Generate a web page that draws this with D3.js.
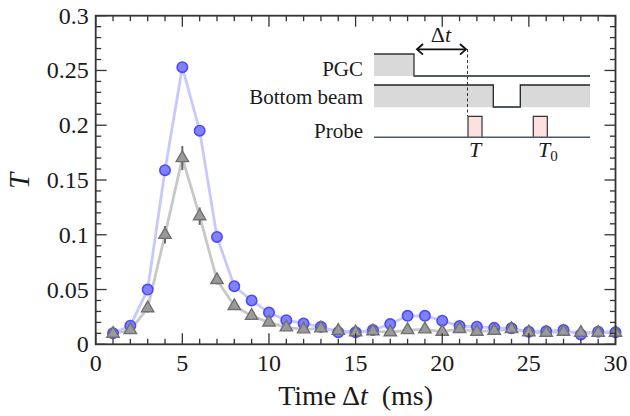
<!DOCTYPE html>
<html><head><meta charset="utf-8">
<script src="https://cdn.jsdelivr.net/npm/d3@7/dist/d3.min.js"></script>
<style>
html,body{margin:0;padding:0;background:#fff;}
svg{display:block;}
</style></head>
<body><svg id="c" width="630" height="416" font-family="'Liberation Serif','Times New Roman','DejaVu Serif',serif"></svg>
<script>
// ---- data ----
const times = d3.range(1, 31);
const blueT = [0.010,0.017,0.050,0.159,0.253,0.195,0.098,0.053,0.040,0.029,
               0.022,0.019,0.016,0.011,0.011,0.013,0.0185,0.026,0.026,0.0216,
               0.0167,0.016,0.015,0.0146,0.0115,0.012,0.013,0.009,0.0115,0.011];
const grayT = [0.0097,0.013,0.033,0.100,0.170,0.117,0.0587,0.035,0.026,0.020,
               0.0155,0.0137,0.0146,0.0124,0.011,0.012,0.011,0.013,0.0137,0.0115,
               0.014,0.0115,0.0124,0.014,0.011,0.0106,0.0115,0.0106,0.0106,0.0106];
const grayErr = [0.002,0.003,0.004,0.008,0.011,0.008,0.004,0.003,0.002,0.002,
                 0.002,0.002,0.002,0.002,0.002,0.002,0.002,0.002,0.002,0.002,
                 0.002,0.002,0.002,0.002,0.002,0.002,0.002,0.002,0.002,0.002];
const xTicks = [0,5,10,15,20,25,30];
const yTicks = [0,0.05,0.1,0.15,0.2,0.25,0.3];
const yTickLabels = ["0","0.05","0.1","0.15","0.2","0.25","0.3"];

// ---- layout ----
const L = 95.7, R = 615.5, T = 15.7, B = 344.3;
const svg = d3.select("#c");
const x = d3.scaleLinear().domain([0,30]).range([L,R]);
const y = d3.scaleLinear().domain([0,0.3]).range([B,T]);
const axisCol = "#333";
const txtCol = "#1a1a1a";

// lines
const line = d3.line().x((d,i)=>x(times[i])).y(d=>y(d));
svg.append("path").attr("d", line(grayT)).attr("fill","none")
  .attr("stroke","#c8c8c8").attr("stroke-width",2.8);
svg.append("path").attr("d", line(blueT)).attr("fill","none")
  .attr("stroke","#c8c8ff").attr("stroke-width",2.8);

// blue circles
svg.append("g").selectAll("circle").data(blueT).join("circle")
  .attr("cx",(d,i)=>x(times[i])).attr("cy",d=>y(d)).attr("r",5.2)
  .attr("fill","#8181fc").attr("stroke","#4a4aff").attr("stroke-width",1.6);

// gray error bars
svg.append("g").selectAll("line").data(grayT).join("line")
  .attr("x1",(d,i)=>x(times[i])).attr("x2",(d,i)=>x(times[i]))
  .attr("y1",(d,i)=>y(d-grayErr[i])).attr("y2",(d,i)=>y(d+grayErr[i]))
  .attr("stroke","#6a6a6a").attr("stroke-width",2);
// gray triangles
const tri = d3.symbol().type(d3.symbolTriangle).size(66);
svg.append("g").selectAll("path").data(grayT).join("path")
  .attr("d", tri)
  .attr("transform",(d,i)=>`translate(${x(times[i])},${y(d)})`)
  .attr("fill","#9a9a9a").attr("stroke","#707070").attr("stroke-width",1.4);

// frame
svg.append("rect").attr("x",L).attr("y",T).attr("width",R-L).attr("height",B-T)
  .attr("fill","none").attr("stroke",axisCol).attr("stroke-width",1.8);

// ticks
const gT = svg.append("g").attr("stroke",axisCol).attr("stroke-width",1.3);
d3.range(0,31).forEach(v=>{
  const len = v%5===0 ? 11 : 5.5;
  gT.append("line").attr("x1",x(v)).attr("x2",x(v)).attr("y1",B).attr("y2",B-len);
  gT.append("line").attr("x1",x(v)).attr("x2",x(v)).attr("y1",T).attr("y2",T+len);
});
d3.range(0,31).forEach(k=>{
  const v = k/100;
  const len = k%5===0 ? 11 : 5.5;
  gT.append("line").attr("y1",y(v)).attr("y2",y(v)).attr("x1",L).attr("x2",L+len);
  gT.append("line").attr("y1",y(v)).attr("y2",y(v)).attr("x1",R).attr("x2",R-len);
});

// tick labels
svg.append("g").attr("fill",txtCol).selectAll("text").data(xTicks).join("text")
  .attr("x",d=>x(d)).attr("y",B+27).attr("text-anchor","middle")
  .attr("font-size",24).text(d=>d);
svg.append("g").attr("fill",txtCol).selectAll("text").data(yTicks).join("text")
  .attr("x",L-7).attr("y",d=>y(d)+8).attr("text-anchor","end")
  .attr("font-size",24).text((d,i)=>yTickLabels[i]);

// axis titles
const xt = svg.append("text").attr("x",(L+R)/2).attr("y",405).attr("text-anchor","middle")
  .attr("font-size",28).attr("fill",txtCol);
xt.append("tspan").text("Time\u2009\u0394");
xt.append("tspan").attr("font-style","italic").text("t");
xt.append("tspan").text("\u2002(ms)");
svg.append("text").attr("transform","translate(29,181) rotate(-90)").attr("fill",txtCol)
  .attr("text-anchor","middle").attr("font-size",29).attr("font-style","italic").text("T");

// ---- inset timing diagram ----
const ins = svg.append("g");
const lineCol = "#4a5868";
const fillG = "#d9d9d9";
const x0 = 374, x1 = 590;
// PGC
ins.append("rect").attr("x",x0).attr("y",54).attr("width",414-x0).attr("height",22).attr("fill",fillG);
ins.append("path").attr("d",`M${x0},54 H414 V76 H${x1}`).attr("fill","none").attr("stroke","#333").attr("stroke-width",1.3);
ins.append("line").attr("x1",414).attr("x2",x1).attr("y1",76).attr("y2",76).attr("stroke",lineCol).attr("stroke-width",1.6);
// Bottom beam
ins.append("rect").attr("x",x0).attr("y",85).attr("width",493.3-x0).attr("height",22.3).attr("fill",fillG);
ins.append("rect").attr("x",520.3).attr("y",85).attr("width",x1-520.3).attr("height",22.3).attr("fill",fillG);
ins.append("path").attr("d",`M${x0},85 H493.3 V107 H520.3 V85 H${x1}`).attr("fill","none").attr("stroke","#222").attr("stroke-width",1.3);
ins.append("line").attr("x1",493.3).attr("x2",520.3).attr("y1",107).attr("y2",107).attr("stroke",lineCol).attr("stroke-width",1.6);
// Probe
ins.append("rect").attr("x",468).attr("y",116.3).attr("width",14).attr("height",21).attr("fill","#ffe0e0");
ins.append("rect").attr("x",533.3).attr("y",116.3).attr("width",14).attr("height",21).attr("fill","#ffe0e0");
ins.append("path").attr("d","M468,137.3 V116.3 H482 V137.3 M533.3,137.3 V116.3 H547.3 V137.3").attr("fill","none").attr("stroke","#333").attr("stroke-width",1.2);
ins.append("line").attr("x1",x0).attr("x2",x1).attr("y1",137.3).attr("y2",137.3).attr("stroke",lineCol).attr("stroke-width",1.6);
// dashed line
ins.append("line").attr("x1",467.5).attr("x2",467.5).attr("y1",49).attr("y2",116).attr("stroke","#333").attr("stroke-width",1).attr("stroke-dasharray","3,2.5");
// arrow
ins.append("line").attr("x1",418).attr("x2",465).attr("y1",49.3).attr("y2",49.3).attr("stroke","#111").attr("stroke-width",1.8);
ins.append("path").attr("d","M423,44 L417,49.3 L423,54.6").attr("fill","none").attr("stroke","#111").attr("stroke-width",1.8);
ins.append("path").attr("d","M460,44 L466,49.3 L460,54.6").attr("fill","none").attr("stroke","#111").attr("stroke-width",1.8);
const dt = ins.append("text").attr("x",441).attr("y",42).attr("text-anchor","middle").attr("font-size",22).attr("fill",txtCol);
dt.append("tspan").text("\u0394");
dt.append("tspan").attr("font-style","italic").text("t");
// labels
ins.append("text").attr("x",363).attr("y",76).attr("text-anchor","end").attr("font-size",21).attr("fill",txtCol).text("PGC");
ins.append("text").attr("x",363).attr("y",104).attr("text-anchor","end").attr("font-size",21).attr("fill",txtCol).text("Bottom beam");
ins.append("text").attr("x",363).attr("y",138).attr("text-anchor","end").attr("font-size",21).attr("fill",txtCol).text("Probe");
ins.append("text").attr("x",475).attr("y",157).attr("text-anchor","middle").attr("font-size",22).attr("font-style","italic").attr("fill",txtCol).text("T");
const t0 = ins.append("text").attr("x",538).attr("y",157).attr("font-size",22).attr("fill",txtCol);
t0.append("tspan").attr("font-style","italic").text("T");
t0.append("tspan").attr("font-size",15).attr("dy",4).text("0");
</script></body></html>
